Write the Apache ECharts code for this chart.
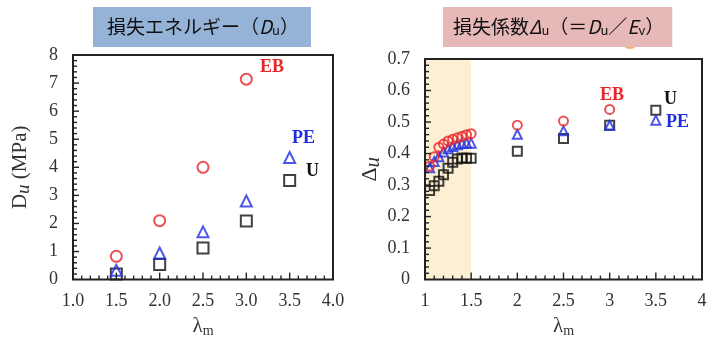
<!DOCTYPE html>
<html>
<head>
<meta charset="utf-8">
<script src="https://cdn.jsdelivr.net/npm/echarts@6/dist/echarts.min.js"></script>
<style>
  html, body { margin: 0; padding: 0; background: #fff; }
  #chart { width: 716px; height: 343px; }
</style>
</head>
<body>
<div id="chart"></div>
<script>
// Loss energy D_u (MPa) versus stretch ratio λm
const lamA = [1.5, 2.0, 2.5, 3.0, 3.5];
const energyEB = [0.83, 2.1, 4.0, 7.14];
const energyPE = [0.33, 0.95, 1.7, 2.8, 4.35];
const energyU = [0.2, 0.54, 1.13, 2.09, 3.53];

// Loss coefficient Δu versus stretch ratio λm
const lamB = [1.05, 1.1, 1.15, 1.2, 1.25, 1.3, 1.35, 1.4, 1.45, 1.5, 2.0, 2.5, 3.0, 3.5];
const coefEB = [0.36, 0.39, 0.42, 0.43, 0.44, 0.445, 0.45, 0.455, 0.46, 0.463, 0.49, 0.503, 0.54];
const coefPE = [0.355, 0.375, 0.39, 0.405, 0.415, 0.422, 0.428, 0.432, 0.433, 0.433, 0.461, 0.472, 0.49, 0.506];
const coefU = [0.283, 0.298, 0.312, 0.333, 0.353, 0.372, 0.383, 0.386, 0.385, 0.385, 0.407, 0.448, 0.49, 0.537];
const coefExtra = [[3.22, 0.757]];
const shadedRange = [1.0, 1.5];

// axis ranges: [min, max, major interval]
const ticksA = { x: [1.0, 4.0, 0.5], y: [0, 8, 1] };
const ticksB = { x: [1, 4, 0.5], y: [0, 0.7, 0.1] };
const MINOR = 5;

const RED = '#e8262a', BLUE = '#1f2ee0', BLACK = '#111';
const SERIF = '"Liberation Serif", "DejaVu Serif", serif';
const CJK = '"Noto Sans CJK JP", "Noto Sans", sans-serif';
const INK = '#222';

const pair = (xs, ys) => ys.map((y, i) => [xs[i], y]);

function axisX(grid, t, digits) {
  return {
    type: 'value', gridIndex: grid, min: t[0], max: t[1], interval: t[2],
    name: '{l|λ}{m|m}', nameLocation: 'middle', nameGap: 28,
    nameTextStyle: { rich: {
      l: { fontFamily: SERIF, fontSize: 21, color: '#333' },
      m: { fontFamily: SERIF, fontSize: 14, color: '#333', verticalAlign: 'bottom', padding: [10, 0, 0, 0] }
    } },
    axisLine: { show: false }, axisTick: { show: false }, minorTick: { show: false },
    splitLine: { show: false },
    axisLabel: { show: true, margin: 13, fontFamily: SERIF, fontSize: 18, color: '#333',
      formatter: v => digits ? v.toFixed(1) : String(+v.toFixed(2)) }
  };
}

function axisY(grid, t, name, rich, gap) {
  return {
    type: 'value', gridIndex: grid, min: t[0], max: t[1], interval: t[2],
    name: name, nameLocation: 'middle', nameGap: gap, nameRotate: 90,
    nameTextStyle: { rich: rich },
    axisLine: { show: false }, axisTick: { show: false }, minorTick: { show: false },
    splitLine: { show: false },
    axisLabel: { show: true, margin: 15, fontFamily: SERIF, fontSize: 18, color: '#333',
      formatter: v => String(+v.toFixed(2)) }
  };
}

// plot frame with inward major/minor ticks on the bottom and left edges
function frame(grid, tx, ty) {
  return {
    type: 'custom', xAxisIndex: grid, yAxisIndex: grid, z: 5, silent: true, clip: false,
    data: [[tx[0], ty[0]]],
    renderItem: (params, api) => {
      const lo = api.coord([tx[0], ty[0]]);
      const hi = api.coord([tx[1], ty[1]]);
      const kids = [{
        type: 'rect',
        shape: { x: lo[0], y: hi[1], width: hi[0] - lo[0], height: lo[1] - hi[1] },
        style: { fill: null, stroke: INK, lineWidth: 2 }
      }];
      const nx = Math.round((tx[1] - tx[0]) / tx[2] * MINOR);
      for (let k = 1; k < nx; k++) {
        const x = api.coord([tx[0] + k * tx[2] / MINOR, ty[0]])[0];
        const len = k % MINOR === 0 ? 7 : 4;
        kids.push({ type: 'line', shape: { x1: x, y1: lo[1], x2: x, y2: lo[1] - len },
          style: { stroke: INK, lineWidth: 1.4 } });
      }
      const ny = Math.round((ty[1] - ty[0]) / ty[2] * MINOR);
      for (let k = 1; k < ny; k++) {
        const y = api.coord([tx[0], ty[0] + k * ty[2] / MINOR])[1];
        const len = k % MINOR === 0 ? 6 : 4;
        kids.push({ type: 'line', shape: { x1: lo[0], y1: y, x2: lo[0] + len, y2: y },
          style: { stroke: INK, lineWidth: 1.4 } });
      }
      return { type: 'group', children: kids };
    }
  };
}

function marks(name, grid, data, symbol, color, size) {
  return {
    name: name, type: 'scatter', xAxisIndex: grid, yAxisIndex: grid,
    data: data, symbol: symbol, symbolSize: size,
    itemStyle: { color: 'rgba(0,0,0,0)', borderColor: color, borderWidth: 2 }
  };
}

const chart = echarts.init(document.getElementById('chart'));

const titleRich = {
  t: { fontFamily: CJK, fontSize: 19, fontWeight: 'normal', color: '#111' },
  i: { fontFamily: CJK, fontSize: 19, fontWeight: 'normal', color: '#111', fontStyle: 'italic' },
  s: { fontFamily: CJK, fontSize: 13, fontWeight: 'normal', color: '#111', verticalAlign: 'bottom', padding: [8, 0, 0, 0] }
};

chart.setOption({
  animation: false,
  title: [
    {
      text: '{t|損失エネルギー（}{i|D}{s|u}{t|）}',
      left: 93, top: 6, backgroundColor: '#95b3d7',
      padding: [10, 12, 10, 14], textStyle: { fontWeight: 'normal', rich: titleRich }
    },
    {
      text: '{t|損失係数}{i|Δ}{s|u}{t|（＝}{i|D}{s|u}{t|／}{i|E}{s|v}{t|）}',
      left: 443, top: 6, backgroundColor: '#e6b9b8',
      padding: [10, 8, 10, 10], textStyle: { fontWeight: 'normal', rich: titleRich }
    }
  ],
  grid: [
    { left: 73, top: 55, width: 260, height: 227 },
    { left: 425, top: 59, width: 277, height: 223 }
  ],
  xAxis: [axisX(0, ticksA.x, true), axisX(1, ticksB.x, false)],
  yAxis: [
    axisY(0, ticksA.y, '{d|D}{u|u}{d| (MPa)}', {
      d: { fontFamily: SERIF, fontSize: 21, color: '#333' },
      u: { fontFamily: SERIF, fontSize: 19, color: '#333', fontStyle: 'italic', verticalAlign: 'bottom', padding: [6, 0, 0, 0] }
    }, 40),
    axisY(1, ticksB.y, '{d|Δ}{u|u}', {
      d: { fontFamily: SERIF, fontSize: 22, color: '#333' },
      u: { fontFamily: SERIF, fontSize: 21, color: '#333', fontStyle: 'italic', verticalAlign: 'bottom', padding: [6, 0, 0, 0] }
    }, 36)
  ],
  series: [
    marks('U', 0, pair(lamA, energyU), 'rect', BLACK, 11),
    marks('PE', 0, pair(lamA, energyPE), 'triangle', BLUE, 11),
    marks('EB', 0, pair(lamA, energyEB), 'circle', RED, 11),
    Object.assign(marks('U', 1, pair(lamB, coefU), 'rect', BLACK, 9), {
      markArea: {
        silent: true,
        itemStyle: { color: '#fcefd3' },
        data: [[{ xAxis: shadedRange[0] }, { xAxis: shadedRange[1] }]]
      }
    }),
    marks('PE', 1, pair(lamB, coefPE), 'triangle', BLUE, 9),
    marks('EB', 1, pair(lamB, coefEB), 'circle', RED, 9),
    Object.assign(marks('EB', 1, coefExtra, 'circle', '#f4a040', 14), { clip: false, z: 1 }),
    frame(0, ticksA.x, ticksA.y),
    frame(1, ticksB.x, ticksB.y)
  ],
  graphic: [
    { type: 'text', left: 260, top: 58, style: { text: 'EB', font: 'bold 18px ' + SERIF, fill: RED } },
    { type: 'text', left: 292, top: 129, style: { text: 'PE', font: 'bold 18px ' + SERIF, fill: BLUE } },
    { type: 'text', left: 306, top: 162, style: { text: 'U', font: 'bold 18px ' + SERIF, fill: BLACK } },
    { type: 'text', left: 600, top: 86, style: { text: 'EB', font: 'bold 18px ' + SERIF, fill: RED } },
    { type: 'text', left: 664, top: 90, style: { text: 'U', font: 'bold 18px ' + SERIF, fill: BLACK } },
    { type: 'text', left: 666, top: 113, style: { text: 'PE', font: 'bold 18px ' + SERIF, fill: BLUE } }
  ]
});
</script>
</body>
</html>
